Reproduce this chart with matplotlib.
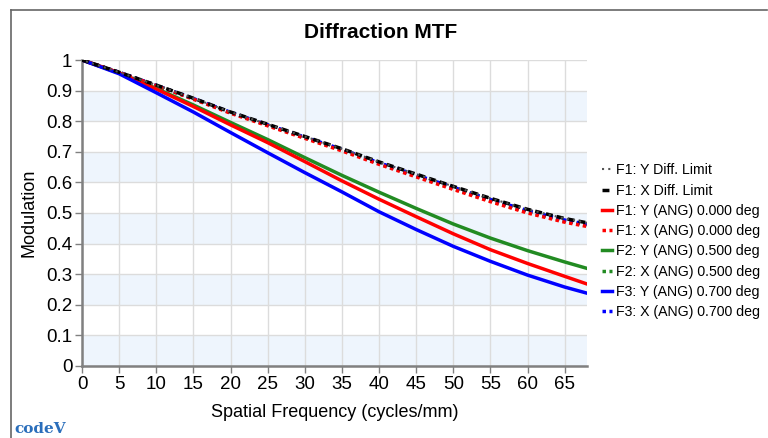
import matplotlib
matplotlib.use('Agg')
import matplotlib.pyplot as plt
from matplotlib.lines import Line2D
from matplotlib.ticker import FuncFormatter

# spatial frequency (cycles/mm)
freq = [0, 5, 10, 15, 20, 25, 30, 35, 40, 45, 50, 55, 60, 65, 68]

diff_y = [1.0, 0.960, 0.918, 0.875, 0.830, 0.790, 0.750, 0.710, 0.667, 0.627, 0.587, 0.548, 0.512, 0.482, 0.468]
diff_x = [1.0, 0.960, 0.918, 0.875, 0.830, 0.790, 0.750, 0.710, 0.667, 0.627, 0.587, 0.548, 0.512, 0.482, 0.468]
f1_y = [1.0, 0.958, 0.905, 0.848, 0.788, 0.730, 0.668, 0.605, 0.545, 0.488, 0.432, 0.380, 0.335, 0.293, 0.268]
f1_x = [1.0, 0.959, 0.916, 0.872, 0.826, 0.785, 0.744, 0.703, 0.659, 0.618, 0.577, 0.537, 0.500, 0.470, 0.456]
f2_y = [1.0, 0.958, 0.907, 0.853, 0.796, 0.740, 0.681, 0.623, 0.568, 0.515, 0.464, 0.418, 0.377, 0.340, 0.319]
f2_x = [1.0, 0.959, 0.917, 0.873, 0.828, 0.787, 0.746, 0.706, 0.662, 0.621, 0.581, 0.541, 0.504, 0.474, 0.460]
f3_y = [1.0, 0.955, 0.893, 0.830, 0.763, 0.697, 0.632, 0.569, 0.504, 0.446, 0.391, 0.342, 0.297, 0.258, 0.238]
f3_x = [1.0, 0.960, 0.917, 0.874, 0.829, 0.788, 0.748, 0.708, 0.664, 0.624, 0.584, 0.544, 0.508, 0.477, 0.463]

labels = ['F1: Y Diff. Limit', 'F1: X Diff. Limit',
          'F1: Y (ANG) 0.000 deg', 'F1: X (ANG) 0.000 deg',
          'F2: Y (ANG) 0.500 deg', 'F2: X (ANG) 0.500 deg',
          'F3: Y (ANG) 0.700 deg', 'F3: X (ANG) 0.700 deg']

plt.rcParams['font.family'] = ['Liberation Sans', 'DejaVu Sans']

fig = plt.figure(figsize=(7.68, 4.38), dpi=100)
ax = fig.add_axes([0.1068, 0.1644, 0.6575, 0.6986])

# alternating light blue bands
for lo in [0.0, 0.2, 0.4, 0.6, 0.8]:
    ax.axhspan(lo, lo + 0.1, color='#eef5fd', zorder=0, lw=0)

dot = (0, (1, 1))
ax.plot(freq, f2_x, color='#228b22', lw=2.5, ls=dot, zorder=2)
ax.plot(freq, f3_x, color='#0000ff', lw=2.5, ls=dot, zorder=2)
ax.plot(freq, f1_x, color='#ff0000', lw=2.5, ls=dot, zorder=2)
ax.plot(freq, f2_y, color='#228b22', lw=2.5, zorder=3)
ax.plot(freq, f1_y, color='#ff0000', lw=2.5, zorder=3)
ax.plot(freq, f3_y, color='#0000ff', lw=2.5, zorder=3)
ax.plot(freq, diff_x, color='black', lw=2.5, ls=(0, (2, 1.2)), zorder=4)
ax.plot(freq, diff_y, color='#555555', lw=1.5, ls=(1, (1, 2)), zorder=5)

ax.set_xlim(0, 68)
ax.set_ylim(0, 1)
ax.set_xticks(range(0, 66, 5))
ax.set_yticks([i / 10 for i in range(11)])
ax.yaxis.set_major_formatter(FuncFormatter(lambda v, p: '%g' % round(v, 1)))
ax.grid(True, color='#dcdcdc', lw=1)
ax.set_axisbelow(True)
for s in ['top', 'right']:
    ax.spines[s].set_visible(False)
for s in ['left', 'bottom']:
    ax.spines[s].set_color('#808080')
    ax.spines[s].set_linewidth(1.8)
ax.tick_params(axis='both', labelsize=13.5, color='#808080', length=5, width=1, pad=2)

ax.set_xlabel('Spatial Frequency (cycles/mm)', fontsize=13, labelpad=8)
ax.set_ylabel('Modulation', fontsize=13, labelpad=6)
fig.text(0.496, 0.925, 'Diffraction MTF', ha='center', va='center', fontsize=15, fontweight='bold')

handles = [
    Line2D([], [], color='#555555', lw=1.5, ls=(0, (1, 2))),
    Line2D([], [], color='black', lw=2.5, ls=(0, (2, 1.2))),
    Line2D([], [], color='#ff0000', lw=2.5),
    Line2D([], [], color='#ff0000', lw=2.5, ls=dot),
    Line2D([], [], color='#228b22', lw=2.5),
    Line2D([], [], color='#228b22', lw=2.5, ls=dot),
    Line2D([], [], color='#0000ff', lw=2.5),
    Line2D([], [], color='#0000ff', lw=2.5, ls=dot),
]
fig.legend(handles, labels, loc='upper left', bbox_to_anchor=(0.776, 0.64),
           frameon=False, fontsize=10.2, handlelength=0.7, handletextpad=0.3,
           labelspacing=0.44, borderaxespad=0)

# outer frame
fig.add_artist(Line2D([11 / 768, 11 / 768], [0, 1 - 10 / 438], transform=fig.transFigure, color='#666666', lw=1.2))
fig.add_artist(Line2D([11 / 768, 767 / 768], [1 - 10 / 438, 1 - 10 / 438], transform=fig.transFigure, color='#666666', lw=1.2))

fig.text(14 / 768, 0.004, 'codeV', color='#2a6ebb', fontsize=11, fontweight='bold',
         family='DejaVu Serif', ha='left', va='bottom')

fig.savefig('out.png', dpi=100)
